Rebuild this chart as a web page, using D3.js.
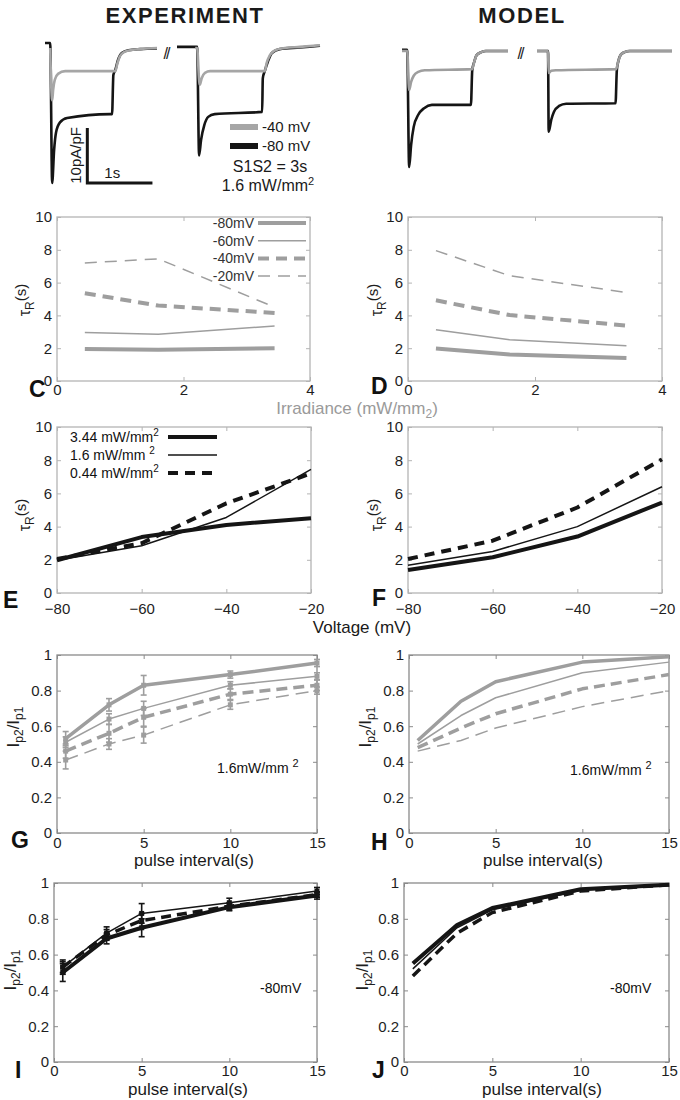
<!DOCTYPE html>
<html><head><meta charset="utf-8">
<script src="https://cdn.jsdelivr.net/npm/d3@7"></script>
<style>body{margin:0;background:#fff} svg text{font-family:"Liberation Sans",Arial,Helvetica,sans-serif}</style>
</head><body><svg id="c" width="680" height="1100"></svg>
<script>
// ================= DATA =================
// Panel A / B current traces: [time (s), current (pA/pF)]
const expTrace1Black = [[0,0.9],[0.08,0.9],[0.11,-24.5],[0.14,-18.5],[0.17,-15.3],[0.23,-13.5],[0.34,-12.7],[1.0,-12.0],[1.03,-12.0],[1.05,-4.9],[1.08,-4.0],[1.12,-2.2],[1.18,-0.9],[1.28,-0.4],[1.46,-0.2],[1.72,-0.1]];
const expTrace1Gray  = [[0.08,0],[0.11,-9.5],[0.125,-7.6],[0.15,-5.8],[0.2,-4.7],[0.31,-4.2],[1.08,-4.2],[1.11,-2.9],[1.15,-1.5],[1.22,-0.7],[1.31,-0.4],[1.46,-0.2],[1.72,0]];
const expTrace2Black = [[0,0.2],[0.31,0.2],[0.34,-19.5],[0.37,-16.7],[0.42,-14.0],[0.48,-12.5],[0.58,-12.0],[1.31,-11.6],[1.32,-5.5],[1.35,-4.2],[1.40,-2.4],[1.46,-0.9],[1.58,-0.2],[1.89,0.1],[2.2,0.4]];
const expTrace2Gray  = [[0.28,0],[0.31,0],[0.34,-5.8],[0.35,-6.7],[0.38,-5.5],[0.43,-4.5],[0.51,-4.2],[1.35,-4.2],[1.38,-2.7],[1.43,-1.3],[1.51,-0.4],[1.66,0],[1.89,0.2],[2.2,0.5]];
const modTrace1Black = [[0,0.2],[0.08,0.2],[0.11,-21.1],[0.14,-17.1],[0.18,-13.8],[0.25,-11.6],[0.34,-10.4],[0.46,-9.8],[1.06,-9.8],[1.08,-3.5],[1.11,-2.0],[1.15,-0.7],[1.22,-0.2],[1.29,0],[1.63,0]];
const modTrace1Gray  = [[0,0],[0.08,0],[0.11,-7.1],[0.14,-5.6],[0.18,-4.5],[0.25,-3.8],[0.35,-3.5],[1.08,-3.3],[1.11,-2.0],[1.15,-0.7],[1.22,-0.2],[1.29,0],[1.63,0]];
const modTrace2Black = [[0,0],[0.17,0],[0.18,-14.7],[0.22,-12.5],[0.26,-11.1],[0.34,-10.0],[0.45,-9.6],[1.21,-9.5],[1.23,-3.5],[1.25,-2.0],[1.29,-0.7],[1.35,-0.2],[1.43,0],[2.08,0]];
const modTrace2Gray  = [[0,0],[0.17,0],[0.18,-4.0],[0.22,-3.6],[0.29,-3.5],[1.22,-3.3],[1.25,-2.0],[1.29,-0.7],[1.35,-0.2],[1.43,0],[2.08,0]];
const traceLegend = ["-40 mV", "-80 mV"];

// Panels C / D: tau_R (s) vs irradiance (mW/mm2)
const irradiance = [0.44, 1.6, 3.44];
const voltLabels = ["-80mV", "-60mV", "-40mV", "-20mV"];
const expTauIrr80 = [1.95, 1.9, 2.0];
const expTauIrr60 = [2.95, 2.85, 3.35];
const expTauIrr40 = [5.35, 4.6, 4.15];
const expTauIrr20 = [7.2, 7.45, 4.5];
const modTauIrr80 = [1.98, 1.62, 1.4];
const modTauIrr60 = [3.12, 2.52, 2.15];
const modTauIrr40 = [4.92, 4.02, 3.38];
const modTauIrr20 = [7.95, 6.42, 5.4];

// Panels E / F: tau_R (s) vs voltage (mV)
const voltages = [-80, -60, -40, -20];
const irrLabels = ["3.44 mW/mm", "1.6  mW/mm ", "0.44 mW/mm"];
const expTauV344 = [1.97, 3.37, 4.1, 4.5];
const expTauV160 = [1.97, 2.85, 4.55, 7.45];
const expTauV044 = [2.05, 3.0, 5.4, 7.2];
const modTauV344 = [1.38, 2.15, 3.4, 5.45];
const modTauV160 = [1.67, 2.5, 4.0, 6.4];
const modTauV044 = [2.05, 3.15, 5.15, 8.05];

// Panels G / H: Ip2/Ip1 vs pulse interval (s), 1.6 mW/mm2
const intervals = [0.5, 3, 5, 10, 15];
const expRec80 = [0.53, 0.72, 0.83, 0.89, 0.955];
const expRec60 = [0.51, 0.64, 0.70, 0.83, 0.88];
const expRec40 = [0.46, 0.56, 0.65, 0.78, 0.83];
const expRec20 = [0.41, 0.50, 0.55, 0.72, 0.80];
const expErr80 = [0.04, 0.035, 0.055, 0.02, 0.02];
const expErr60 = [0.03, 0.03, 0.04, 0.02, 0.02];
const expErr40 = [0.04, 0.05, 0.05, 0.03, 0.03];
const expErr20 = [0.05, 0.03, 0.045, 0.025, 0.02];
const modRec80 = [0.52, 0.74, 0.85, 0.96, 0.99];
const modRec60 = [0.50, 0.66, 0.76, 0.90, 0.96];
const modRec40 = [0.48, 0.59, 0.67, 0.81, 0.89];
const modRec20 = [0.46, 0.52, 0.59, 0.71, 0.80];

// Panels I / J: Ip2/Ip1 vs pulse interval (s), -80 mV
const expRecI344 = [0.50, 0.69, 0.75, 0.865, 0.93];
const expRecI160 = [0.53, 0.72, 0.83, 0.89, 0.955];
const expRecI044 = [0.53, 0.71, 0.79, 0.87, 0.935];
const expErrI344 = [0.05, 0.03, 0.05, 0.02, 0.02];
const expErrI160 = [0.04, 0.035, 0.055, 0.025, 0.02];
const expErrI044 = [0.03, 0.03, 0.04, 0.02, 0.015];
const modRecI344 = [0.55, 0.765, 0.86, 0.965, 0.99];
const modRecI160 = [0.52, 0.75, 0.85, 0.96, 0.99];
const modRecI044 = [0.48, 0.72, 0.835, 0.955, 0.99];

const tauTicks = [0, 2, 4, 6, 8, 10];
const irrTicks = [0, 2, 4];
const voltTicks = [-80, -60, -40, -20];
const recTicks = [0, 0.2, 0.4, 0.6, 0.8, 1];
const intTicks = [0, 5, 10, 15];

// ================= DRAWING =================
const svg = d3.select('#c');
const BLACK = '#151515', GRAY = '#9e9e9e', GRAYA = '#a6a6a6';

function txt(x, y, s, size, opts = {}) {
  const t = svg.append('text').attr('x', x).attr('y', y).attr('font-size', size)
    .attr('fill', opts.fill || '#1a1a1a').attr('text-anchor', opts.anchor || 'start');
  if (opts.bold) t.attr('font-weight', 'bold');
  if (opts.ls) t.attr('letter-spacing', opts.ls);
  t.text(s);
  return t;
}

// titles
txt(185, 23, 'EXPERIMENT', 22, {bold: true, anchor: 'middle', ls: 1.6});
txt(522, 23, 'MODEL', 22, {bold: true, anchor: 'middle', ls: 1.6});

// ---- trace panels ----
const yA = d3.scaleLinear().domain([0, -24.5]).range([48, 183]);
const yB = d3.scaleLinear().domain([0, -21.1]).range([51, 167]);
const xA1 = d3.scaleLinear().domain([0, 1.72]).range([45, 157]);
const xA2 = d3.scaleLinear().domain([0, 2.2]).range([177, 320]);
const xB1 = d3.scaleLinear().domain([0, 1.63]).range([402, 508]);
const xB2 = d3.scaleLinear().domain([0, 2.08]).range([537, 672]);

function trace(data, xs, ys, color) {
  svg.append('path').datum(data)
    .attr('d', d3.line().curve(d3.curveMonotoneX).x(d => xs(d[0])).y(d => ys(d[1])))
    .attr('fill', 'none').attr('stroke', color).attr('stroke-width', 2.6)
    .attr('stroke-linejoin', 'round');
}
trace(expTrace1Black, xA1, yA, BLACK);
trace(expTrace1Gray, xA1, yA, GRAYA);
trace(expTrace2Black, xA2, yA, BLACK);
trace(expTrace2Gray, xA2, yA, GRAYA);
trace(modTrace1Black, xB1, yB, BLACK);
trace(modTrace1Gray, xB1, yB, GRAY);
trace(modTrace2Black, xB2, yB, BLACK);
trace(modTrace2Gray, xB2, yB, GRAY);

// break marks
txt(166, 59, '//', 16, {anchor: 'middle', fill: '#222', ls: -2});
txt(520, 59, '//', 16, {anchor: 'middle', fill: '#222', ls: -2});

// scale bar (10 pA/pF, 1 s)
{
  const bx = xA1(0.65), by = yA(-24.5);
  const h = yA(-10) - yA(0), w = xA1(1) - xA1(0);
  svg.append('path').attr('d', `M${bx},${by - h}V${by}H${bx + w}`)
    .attr('fill', 'none').attr('stroke', BLACK).attr('stroke-width', 3);
  svg.append('text').attr('transform', `translate(${bx - 6},${by - h / 2}) rotate(-90)`)
    .attr('text-anchor', 'middle').attr('font-size', 15).attr('fill', '#1a1a1a').text('10pA/pF');
  txt(bx + 17, by - 5, '1s', 15);
}
// trace legend
[[GRAYA, traceLegend[0], 127], [BLACK, traceLegend[1], 146]].forEach(([c, s, y]) => {
  svg.append('line').attr('x1', 230).attr('x2', 258).attr('y1', y).attr('y2', y)
    .attr('stroke', c).attr('stroke-width', 6);
  txt(262, y + 5, s, 15);
});
txt(270, 172, 'S1S2 = 3s', 16, {anchor: 'middle'});
{
  const t = txt(268, 191, '1.6 mW/mm', 16, {anchor: 'middle'});
  t.append('tspan').attr('dy', -6).attr('font-size', 11).text('2');
}

// ---- generic axes panel ----
function panel(o) {
  const x = d3.scaleLinear().domain(o.xd).range([o.x0, o.x1]);
  const y = d3.scaleLinear().domain(o.yd).range([o.y1, o.y0]);
  const g = svg.append('g');
  const fmt = d => d3.format('~g')(d);
  const st = sel => {
    sel.select('.domain').remove();
    sel.selectAll('line').attr('stroke', o.box);
    sel.selectAll('text').attr('font-size', 15).attr('fill', '#1e1e1e')
      .attr('font-family', '"Liberation Sans",Arial,sans-serif');
  };
  g.append('g').attr('transform', `translate(0,${o.y1})`)
    .call(d3.axisBottom(x).tickValues(o.xt).tickSize(-4).tickPadding(o.pad).tickFormat(fmt)).call(st);
  g.append('g').attr('transform', `translate(0,${o.y0})`)
    .call(d3.axisTop(x).tickValues(o.xt).tickSize(-4).tickFormat('')).call(st);
  g.append('g').attr('transform', `translate(${o.x0},0)`)
    .call(d3.axisLeft(y).tickValues(o.yt).tickSize(-4).tickPadding(5).tickFormat(fmt)).call(st);
  g.append('g').attr('transform', `translate(${o.x1},0)`)
    .call(d3.axisRight(y).tickValues(o.yt).tickSize(-4).tickFormat('')).call(st);
  g.append('rect').attr('x', o.x0).attr('y', o.y0).attr('width', o.x1 - o.x0).attr('height', o.y1 - o.y0)
    .attr('fill', 'none').attr('stroke', o.box).attr('stroke-width', 1.3);
  return {x, y, g};
}
function line(p, xs, ys, c, w, dash) {
  p.g.append('path').datum(d3.zip(xs, ys))
    .attr('d', d3.line().x(d => p.x(d[0])).y(d => p.y(d[1])))
    .attr('fill', 'none').attr('stroke', c).attr('stroke-width', w)
    .attr('stroke-dasharray', dash || null).attr('stroke-linejoin', 'round');
}
function errs(p, xs, ys, es, c) {
  xs.forEach((xv, i) => {
    const cx = p.x(xv), yt = p.y(ys[i] + es[i]), yb = p.y(ys[i] - es[i]);
    p.g.append('line').attr('x1', cx).attr('x2', cx).attr('y1', yt).attr('y2', yb).attr('stroke', c).attr('stroke-width', 1.6);
    [yt, yb].forEach(yy => p.g.append('line').attr('x1', cx - 3).attr('x2', cx + 3).attr('y1', yy).attr('y2', yy).attr('stroke', c).attr('stroke-width', 1.6));
    p.g.append('rect').attr('x', cx - 2.5).attr('y', p.y(ys[i]) - 2.5).attr('width', 5).attr('height', 5).attr('fill', c);
  });
}
function letter(x, y, s) { txt(x, y, s, 23, {bold: true, fill: '#111'}); }
function tauLabel(x, y) {
  const t = svg.append('text').attr('transform', `translate(${x},${y}) rotate(-90)`)
    .attr('text-anchor', 'middle').attr('font-size', 16).attr('fill', '#1e1e1e');
  t.append('tspan').text('τ');
  t.append('tspan').attr('dy', 4).attr('font-size', 12).text('R');
  t.append('tspan').attr('dy', -8).attr('font-size', 15).text('(s)');
}
function recLabel(x, y) {
  const t = svg.append('text').attr('transform', `translate(${x},${y}) rotate(-90)`)
    .attr('text-anchor', 'middle').attr('font-size', 17).attr('fill', '#1e1e1e');
  t.append('tspan').text('I');
  t.append('tspan').attr('dy', 4).attr('font-size', 12).text('p2');
  t.append('tspan').attr('dy', -4).text('/I');
  t.append('tspan').attr('dy', 4).attr('font-size', 12).text('p1');
}

const BOX1 = '#b4b4b4', BOX2 = '#8a8a8a';
const gDash = [GRAY, 4, null], gThin = [GRAY, 1.5, null], gDashT = [GRAY, 4, '11,7'], gDashN = [GRAY, 1.5, '12,8'];
const styles4 = [gDash, gThin, gDashT, gDashN];

// ---- C ----
const pC = panel({x0: 57, x1: 310, y0: 217, y1: 381, xd: [0, 4], yd: [0, 10], xt: irrTicks, yt: tauTicks, box: BOX1, pad: 3});
[expTauIrr80, expTauIrr60, expTauIrr40, expTauIrr20].forEach((d, i) => line(pC, irradiance, d, ...styles4[i]));
voltLabels.forEach((s, i) => {
  const yy = 223 + i * 17.7;
  txt(254, yy + 5, s, 14, {anchor: 'end', fill: '#333'});
  svg.append('line').attr('x1', 258).attr('x2', 306).attr('y1', yy).attr('y2', yy)
    .attr('stroke', styles4[i][0]).attr('stroke-width', styles4[i][1]).attr('stroke-dasharray', styles4[i][2]);
});
tauLabel(30, 300); letter(29, 397, 'C');

// ---- D ----
const pD = panel({x0: 408, x1: 662, y0: 217, y1: 381, xd: [0, 4], yd: [0, 10], xt: irrTicks, yt: tauTicks, box: BOX1, pad: 3});
[modTauIrr80, modTauIrr60, modTauIrr40, modTauIrr20].forEach((d, i) => line(pD, irradiance, d, ...styles4[i]));
tauLabel(382, 300); letter(371, 394, 'D');
{
  const t = txt(357, 414, 'Irradiance (mW/mm', 17, {anchor: 'middle', fill: '#9a9a9a'});
  t.append('tspan').attr('dy', 4).attr('font-size', 12).text('2');
  t.append('tspan').attr('dy', -4).text(')');
}

// ---- E ----
const kThick = [BLACK, 4, null], kThin = [BLACK, 1.5, null], kDash = [BLACK, 4, '10,7'];
const styles3 = [kThick, kThin, kDash];
const pE = panel({x0: 57, x1: 311, y0: 427, y1: 593, xd: [-80, -20], yd: [0, 10], xt: voltTicks, yt: tauTicks, box: BOX1, pad: 10});
[expTauV344, expTauV160, expTauV044].forEach((d, i) => line(pE, voltages, d, ...styles3[i]));
irrLabels.forEach((s, i) => {
  const yy = 437 + i * 18;
  const t = txt(70, yy + 5, s, 14, {fill: '#111'});
  t.append('tspan').attr('dy', -6).attr('font-size', 10).text('2');
  svg.append('line').attr('x1', 168).attr('x2', 217).attr('y1', yy).attr('y2', yy)
    .attr('stroke', styles3[i][0]).attr('stroke-width', styles3[i][1]).attr('stroke-dasharray', styles3[i][2]);
});
tauLabel(30, 515); letter(3, 608, 'E');

// ---- F ----
const pF = panel({x0: 408, x1: 662, y0: 427, y1: 593, xd: [-80, -20], yd: [0, 10], xt: voltTicks, yt: tauTicks, box: BOX1, pad: 10});
[modTauV344, modTauV160, modTauV044].forEach((d, i) => line(pF, voltages, d, ...styles3[i]));
tauLabel(382, 515); letter(372, 606, 'F');
txt(362, 633, 'Voltage (mV)', 17, {anchor: 'middle'});

// ---- G ----
const gStyles = [[GRAY, 3.5, null], [GRAY, 1.5, null], [GRAY, 3.5, '11,6'], [GRAY, 1.5, '13,7']];
const pG = panel({x0: 57, x1: 317, y0: 655, y1: 833, xd: [0, 15], yd: [0, 1], xt: intTicks, yt: recTicks, box: BOX2, pad: 4});
const gData = [expRec80, expRec60, expRec40, expRec20], gErr = [expErr80, expErr60, expErr40, expErr20];
gData.forEach((d, i) => errs(pG, intervals, d, gErr[i], GRAY));
gData.forEach((d, i) => line(pG, intervals, d, ...gStyles[i]));
recLabel(19, 727); letter(11, 848, 'G');
{
  const t = txt(217, 773, '1.6mW/mm ', 14, {fill: '#111'});
  t.append('tspan').attr('dy', -6).attr('font-size', 11).text('2');
}
txt(194, 866, 'pulse interval(s)', 17, {anchor: 'middle'});

// ---- H ----
const pH = panel({x0: 409, x1: 669, y0: 655, y1: 833, xd: [0, 15], yd: [0, 1], xt: intTicks, yt: recTicks, box: BOX2, pad: 4});
[modRec80, modRec60, modRec40, modRec20].forEach((d, i) => line(pH, intervals, d, ...gStyles[i]));
recLabel(371, 727); letter(371, 850, 'H');
{
  const t = txt(570, 775, '1.6mW/mm ', 14, {fill: '#111'});
  t.append('tspan').attr('dy', -6).attr('font-size', 11).text('2');
}
txt(543, 866, 'pulse interval(s)', 17, {anchor: 'middle'});

// ---- I ----
const iStyles = [[BLACK, 4, null], [BLACK, 1.5, null], [BLACK, 3.5, '10,6']];
const pI = panel({x0: 54, x1: 317, y0: 883, y1: 1062, xd: [0, 15], yd: [0, 1], xt: intTicks, yt: recTicks, box: BOX2, pad: 3});
const iData = [expRecI344, expRecI160, expRecI044], iErr = [expErrI344, expErrI160, expErrI044];
iData.forEach((d, i) => errs(pI, intervals, d, iErr[i], BLACK));
iData.forEach((d, i) => line(pI, intervals, d, ...iStyles[i]));
recLabel(16, 970); letter(15, 1078, 'I');
txt(260, 993, '-80mV', 14, {fill: '#111'});
txt(188, 1095, 'pulse interval(s)', 17, {anchor: 'middle'});

// ---- J ----
const pJ = panel({x0: 404, x1: 669, y0: 883, y1: 1062, xd: [0, 15], yd: [0, 1], xt: intTicks, yt: recTicks, box: BOX2, pad: 3});
[modRecI344, modRecI160, modRecI044].forEach((d, i) => line(pJ, intervals, d, ...iStyles[i]));
recLabel(368, 970); letter(372, 1078, 'J');
txt(610, 993, '-80mV', 14, {fill: '#111'});
txt(542, 1095, 'pulse interval(s)', 17, {anchor: 'middle'});
</script>
</body></html>
